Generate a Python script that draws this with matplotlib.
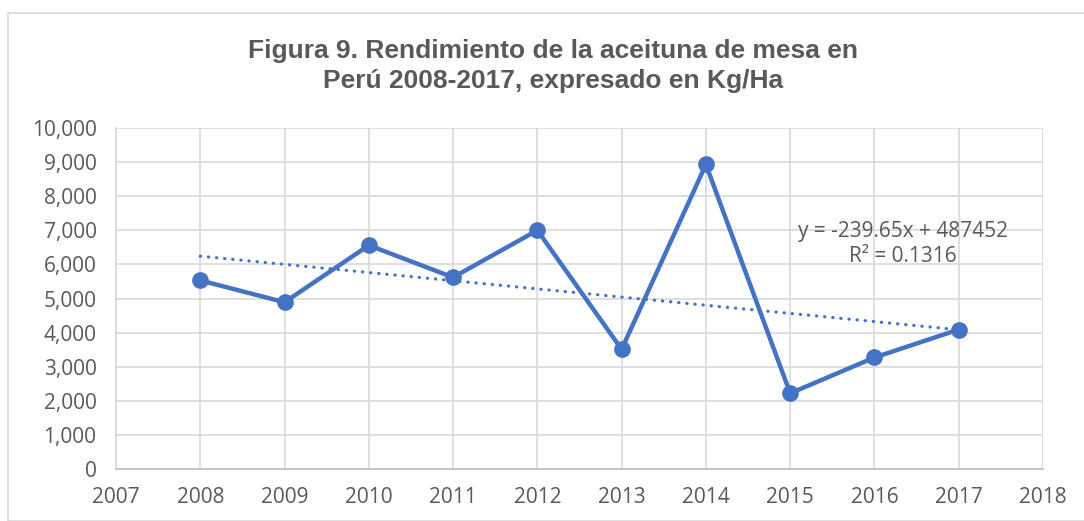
import matplotlib
matplotlib.use("Agg")
import matplotlib.pyplot as plt
import numpy as np
from matplotlib.ticker import FuncFormatter, MultipleLocator
from matplotlib.patches import Rectangle

years = [2008, 2009, 2010, 2011, 2012, 2013, 2014, 2015, 2016, 2017]
rendimiento = [5530, 4890, 6560, 5620, 7000, 3510, 8930, 2220, 3270, 4090]
title = "Figura 9. Rendimiento de la aceituna de mesa en\nPerú 2008-2017, expresado en Kg/Ha"
eq_text = "y = -239.65x + 487452\nR² = 0.1316"

blue = "#4472C4"
gray_txt = "#595959"

fig = plt.figure(figsize=(10.84, 5.21), dpi=100)
fig.patches.append(Rectangle((8/1084, 0), 1.2, 1 - 13/521, transform=fig.transFigure,
                             fill=False, edgecolor="#D9D9D9", linewidth=1.2))
ax = fig.add_axes([116/1084, 1 - 469/521, (1043 - 116)/1084, (469 - 128)/521])

ax.plot(years, rendimiento, color=blue, linewidth=3.2, marker="o", markersize=11, zorder=3)
coef = np.polyfit(years, rendimiento, 1)
tx = np.array([years[0], years[-1]])
ax.plot(tx, np.polyval(coef, tx), color=blue, linewidth=2.3, linestyle=(0, (0.1, 2.45)),
        dash_capstyle="round", zorder=2)

ax.set_xlim(2007, 2018)
ax.set_ylim(0, 10000)
ax.xaxis.set_major_locator(MultipleLocator(1))
ax.yaxis.set_major_locator(MultipleLocator(1000))
ax.yaxis.set_major_formatter(FuncFormatter(lambda v, p: f"{int(v):,}"))
ax.grid(True, color="#D9D9D9", linewidth=1.2)
ax.set_axisbelow(True)
for s in ["top", "right"]:
    ax.spines[s].set_visible(False)
ax.spines["left"].set_color("#D9D9D9")
ax.spines["left"].set_linewidth(1.2)
ax.spines["bottom"].set_color("#BFBFBF")
ax.spines["bottom"].set_linewidth(1.2)
ax.tick_params(length=0, labelsize=15, labelcolor=gray_txt)
ax.tick_params(axis="x", pad=13)
ax.tick_params(axis="y", pad=14)
for lbl in ax.get_xticklabels() + ax.get_yticklabels():
    lbl.set_fontfamily("Open Sans")

ax.text(2016.34, 6600, eq_text, ha="center", va="center", fontsize=15, color=gray_txt,
        family="Open Sans", linespacing=1.3)

fig.text(553/1084, 1 - 66/521, title, ha="center", va="center", fontsize=19,
         fontweight="bold", color=gray_txt, family="Liberation Sans", linespacing=1.32)

fig.savefig("out.png", dpi=100)
